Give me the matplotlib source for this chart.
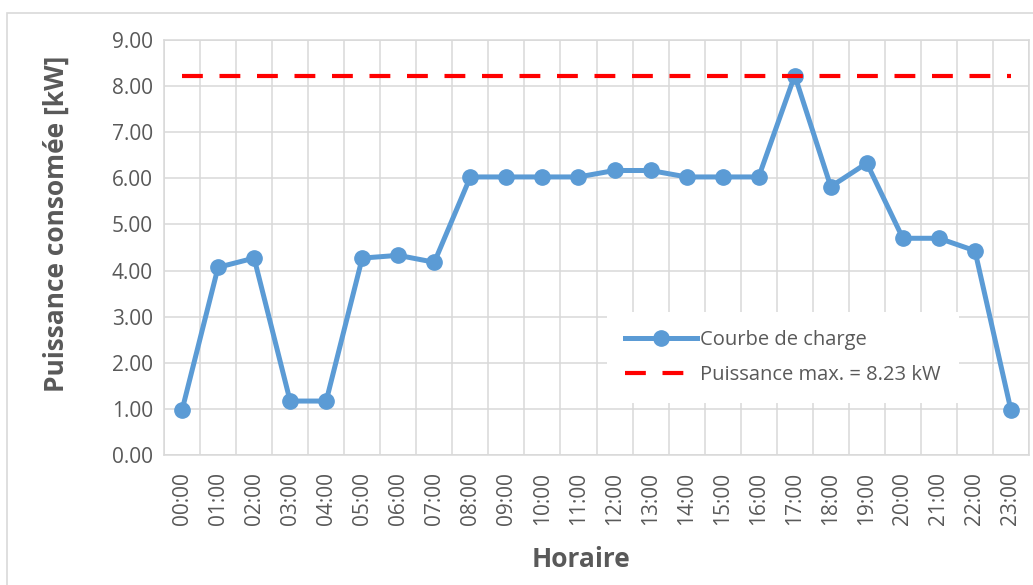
import numpy as np
import matplotlib
matplotlib.use("Agg")
import matplotlib.pyplot as plt
from matplotlib.patches import Rectangle

# chart data
hours = [f"{h:02d}:00" for h in range(24)]
load_kw = [0.97, 4.07, 4.27, 1.17, 1.17, 4.27, 4.33, 4.18, 6.03, 6.03, 6.03, 6.03,
           6.17, 6.17, 6.03, 6.03, 6.03, 8.23, 5.82, 6.33, 4.70, 4.70, 4.43, 0.97]
p_max = 8.23
y_ticks = [0, 1, 2, 3, 4, 5, 6, 7, 8, 9]

plt.rcParams['font.family'] = ['Open Sans', 'DejaVu Sans']
text_col = '#595959'
grid_col = '#D9D9D9'

W, H = 1033, 585
fig = plt.figure(figsize=(W / 100, H / 100), dpi=100)

# chart area border
fig.add_artist(Rectangle((7 / W, -0.1), 1.2, 1 - 13 / H + 0.1, transform=fig.transFigure,
                         facecolor='none', edgecolor=grid_col, linewidth=1.2))

ax = fig.add_axes([164 / W, 1 - 455 / H, (1029 - 164) / W, (455 - 40) / H])

x = np.arange(len(hours))
ax.plot(x, load_kw, color='#5B9BD5', linewidth=3.6, marker='o', markersize=11,
        label='Courbe de charge', zorder=3, solid_joinstyle='round')
ax.plot(x, [p_max] * len(x), color='#FF0000', linewidth=3, linestyle=(0, (5, 4)),
        label=f'Puissance max. = {p_max} kW', zorder=3)

ax.set_xlim(-0.5, len(hours) - 0.5)
ax.set_ylim(0, 9)
ax.set_xticks(x)
ax.set_xticklabels(hours, rotation=90)
ax.set_xticks(np.arange(-0.5, len(hours)), minor=True)
ax.set_yticks(y_ticks)
ax.set_yticklabels([f"{v:.2f}" for v in y_ticks])
ax.tick_params(axis='both', which='both', length=0, labelsize=15, colors=text_col)
ax.tick_params(axis='x', pad=12)
ax.tick_params(axis='y', pad=8)

ax.grid(True, which='minor', axis='x', color=grid_col, linewidth=1.1)
ax.grid(True, which='major', axis='y', color=grid_col, linewidth=1.1)
ax.set_axisbelow(True)
for s in ax.spines.values():
    s.set_color(grid_col)
    s.set_linewidth(1.1)

ax.set_ylabel('Puissance consomée [kW]', fontsize=19, fontweight='bold', color=text_col)
ax.yaxis.set_label_coords((70 - 164) / 865, (455 - 224) / 415)
ax.set_xlabel('Horaire', fontsize=19, fontweight='bold', color=text_col)
ax.xaxis.set_label_coords((581 - 164) / 865, (455 - 546) / 415)

leg = ax.legend(loc='center', bbox_to_anchor=(0.7156, 0.235), fontsize=14.5,
                frameon=True, fancybox=False, framealpha=1, handlelength=3.6,
                handletextpad=0.15, labelspacing=0.75, borderpad=0.9)
leg.get_frame().set_edgecolor('none')
leg.get_frame().set_facecolor('white')
for t in leg.get_texts():
    t.set_color(text_col)

fig.savefig('out.png', dpi=100)
